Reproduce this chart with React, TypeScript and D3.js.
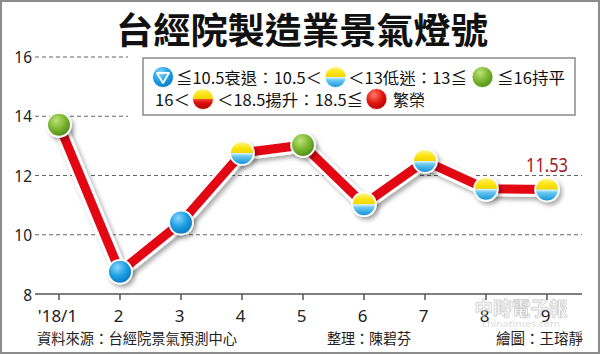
import React from 'react';
import * as d3 from 'd3';

const months = ["'18/1", "2", "3", "4", "5", "6", "7", "8", "9"];
const scores = [13.71, 8.75, 10.41, 12.76, 13.03, 11.03, 12.49, 11.55, 11.53];
const yTicks = [8, 10, 12, 14, 16];
const lastValueLabel = "11.53";
const title = "台經院製造業景氣燈號";
const sourceNote = "資料來源：台經院景氣預測中心";
const editorNote = "整理：陳碧芬";
const artistNote = "繪圖：王瑢靜";
const legendLine1 = ["≦10.5衰退：10.5＜", "＜13低迷：13≦", "≦16持平"];
const legendLine2 = ["16＜", "＜18.5揚升：18.5≦", "繁榮"];

function signalOf(v: number): string {
  if (v <= 10.5) return "gBlue";
  if (v < 13) return "gYB";
  if (v <= 16) return "gGreen";
  if (v < 18.5) return "gYR";
  return "gRed";
}

const CJK = "'Noto Sans CJK TC', 'Noto Sans CJK SC', sans-serif";
const SANS = "'Noto Sans', 'Liberation Sans', sans-serif";

export default function App() {
  const W = 600, H = 354;
  const x = d3.scalePoint<string>().domain(months).range([59, 547]);
  const y = d3.scaleLinear().domain([8, 16]).range([294, 57]);
  const line = d3.line<number>().x((_, i) => x(months[i]) as number).y(d => y(d));
  const path = line(scores) || '';

  const LegendIcon = ({ cx, cy, fill, tri }: { cx: number; cy: number; fill: string; tri?: boolean }) => (
    <g>
      <circle cx={cx} cy={cy} r={10.5} fill={`url(#${fill})`} stroke="#ffffff" strokeWidth={0.8} />
      {tri && (
        <path
          d={`M${cx - 6},${cy - 4} L${cx + 6},${cy - 4} L${cx},${cy + 6} Z`}
          fill="none" stroke="#fff" strokeWidth={1.8} strokeLinejoin="round" />
      )}
    </g>
  );

  return (
    <svg width={W} height={H} style={{ position: 'absolute', left: 0, top: 0, background: '#fff' }}>
      <defs>
        <radialGradient id="gBlue" cx="38%" cy="30%" r="75%">
          <stop offset="0%" stopColor="#8ad6ff" />
          <stop offset="55%" stopColor="#1b9fe2" />
          <stop offset="100%" stopColor="#0a76c2" />
        </radialGradient>
        <radialGradient id="gGreen" cx="38%" cy="30%" r="75%">
          <stop offset="0%" stopColor="#bfe37a" />
          <stop offset="55%" stopColor="#79b52f" />
          <stop offset="100%" stopColor="#4e8c18" />
        </radialGradient>
        <radialGradient id="gRed" cx="38%" cy="30%" r="75%">
          <stop offset="0%" stopColor="#ff7a66" />
          <stop offset="55%" stopColor="#e2150f" />
          <stop offset="100%" stopColor="#b00000" />
        </radialGradient>
        <linearGradient id="gYB" x1="0" y1="0" x2="0" y2="1">
          <stop offset="0%" stopColor="#fff59a" />
          <stop offset="22%" stopColor="#ffe81c" />
          <stop offset="48%" stopColor="#f4d500" />
          <stop offset="52%" stopColor="#d5f1fb" />
          <stop offset="64%" stopColor="#6ccaf2" />
          <stop offset="100%" stopColor="#1494d8" />
        </linearGradient>
        <linearGradient id="gYR" x1="0" y1="0" x2="0" y2="1">
          <stop offset="0%" stopColor="#fff59a" />
          <stop offset="22%" stopColor="#ffe81c" />
          <stop offset="48%" stopColor="#f4d500" />
          <stop offset="52%" stopColor="#f24a36" />
          <stop offset="66%" stopColor="#e01010" />
          <stop offset="100%" stopColor="#ad0000" />
        </linearGradient>
        <filter id="sh" x="-40%" y="-40%" width="180%" height="180%">
          <feDropShadow dx="2.5" dy="3" stdDeviation="2" floodColor="#000" floodOpacity="0.33" />
        </filter>
      </defs>

      <rect x={1} y={1} width={W - 2} height={H - 2} fill="#fff" stroke="#8c8c8c" strokeWidth={2} />

      <text x={302} y={28} textAnchor="middle" dominantBaseline="central" fontFamily={CJK}
        fontWeight={700} fontSize={36} fill="#111" textLength={372} lengthAdjust="spacingAndGlyphs">{title}</text>

      {/* gridlines */}
      {yTicks.filter(t => t > 8).map(t => (
        <line key={t} x1={35} x2={t >= 14 ? 128 : 582} y1={y(t)} y2={y(t)}
          stroke="#666" strokeWidth={1.2} strokeDasharray="4 3" />
      ))}
      {yTicks.map(t => (
        <text key={'l' + t} x={32} y={y(t) + (t === 8 ? 1 : 0)} textAnchor="end" dominantBaseline="central"
          fontFamily={SANS} fontSize={15.5} fill="#222">{t}</text>
      ))}

      {/* x axis */}
      <line x1={35} x2={582} y1={y(8)} y2={y(8)} stroke="#555" strokeWidth={1.6} />
      {months.map(m => (
        <g key={m}>
          <line x1={x(m)} x2={x(m)} y1={y(8)} y2={y(8) + 6} stroke="#555" strokeWidth={1.5} />
          <text x={(x(m) as number) - 1.5} y={315} textAnchor="middle" dominantBaseline="central"
            fontFamily={SANS} fontSize={17} fill="#222">{m}</text>
        </g>
      ))}

      {/* legend */}
      <rect x={143} y={58} width={432} height={57} fill="#fff" stroke="#8a8a8a" strokeWidth={1.5} />
      <LegendIcon cx={163} cy={77} fill="gBlue" tri />
      <text x={176} y={77} dominantBaseline="central" fontFamily={CJK} fontSize={15.5} fill="#111"
        textLength={146} lengthAdjust="spacingAndGlyphs">{legendLine1[0]}</text>
      <LegendIcon cx={335.5} cy={77} fill="gYB" />
      <text x={348} y={77} dominantBaseline="central" fontFamily={CJK} fontSize={15.5} fill="#111"
        textLength={119} lengthAdjust="spacingAndGlyphs">{legendLine1[1]}</text>
      <LegendIcon cx={482.5} cy={77} fill="gGreen" />
      <text x={497} y={77} dominantBaseline="central" fontFamily={CJK} fontSize={15.5} fill="#111"
        textLength={68} lengthAdjust="spacingAndGlyphs">{legendLine1[2]}</text>

      <text x={155} y={99} dominantBaseline="central" fontFamily={CJK} fontSize={15.5} fill="#111"
        textLength={35} lengthAdjust="spacingAndGlyphs">{legendLine2[0]}</text>
      <LegendIcon cx={203} cy={99} fill="gYR" />
      <text x={217} y={99} dominantBaseline="central" fontFamily={CJK} fontSize={15.5} fill="#111"
        textLength={146} lengthAdjust="spacingAndGlyphs">{legendLine2[1]}</text>
      <LegendIcon cx={376.5} cy={99} fill="gRed" />
      <text x={393} y={99} dominantBaseline="central" fontFamily={CJK} fontSize={15.5} fill="#111"
        textLength={32} lengthAdjust="spacingAndGlyphs">{legendLine2[2]}</text>

      {/* line */}
      <path d={path} fill="none" stroke="#fff" strokeWidth={15} strokeLinejoin="round" filter="url(#sh)" />
      <path d={path} fill="none" stroke="#e30613" strokeWidth={9} strokeLinejoin="round" />

      {/* markers */}
      {scores.map((v, i) => (
        <g key={i}>
          <circle cx={x(months[i])} cy={y(v)} r={12.8} fill="#fff" filter="url(#sh)" />
          <circle cx={x(months[i])} cy={y(v)} r={11} fill={`url(#${signalOf(v)})`} />
        </g>
      ))}

      <text x={x(months[months.length - 1])} y={y(scores[scores.length - 1]) - 25} textAnchor="middle"
        dominantBaseline="central" fontFamily={SANS} fontSize={20} fill="#a3161f"
        textLength={42} lengthAdjust="spacingAndGlyphs">{lastValueLabel}</text>

      {/* watermark */}
      <g opacity={0.55}>
        <text x={521} y={307} textAnchor="middle" dominantBaseline="central" fontFamily={CJK} fontSize={19}
          fontWeight={700} fill="#fff" stroke="#aaa" strokeWidth={0.9} textLength={93}
          lengthAdjust="spacingAndGlyphs">中時電子報</text>
        <text x={521} y={323} textAnchor="middle" dominantBaseline="central" fontFamily={SANS} fontSize={9}
          fill="#bbb" textLength={78} lengthAdjust="spacingAndGlyphs">chinatimes.com</text>
      </g>

      {/* footer */}
      <text x={37} y={337} dominantBaseline="central" fontFamily={CJK} fontSize={14.3} fill="#222"
        textLength={200} lengthAdjust="spacingAndGlyphs">{sourceNote}</text>
      <text x={327} y={337} dominantBaseline="central" fontFamily={CJK} fontSize={14.3} fill="#222"
        textLength={84} lengthAdjust="spacingAndGlyphs">{editorNote}</text>
      <text x={583} y={337} textAnchor="end" dominantBaseline="central" fontFamily={CJK} fontSize={14.3}
        fill="#222" textLength={87} lengthAdjust="spacingAndGlyphs">{artistNote}</text>
    </svg>
  );
}
